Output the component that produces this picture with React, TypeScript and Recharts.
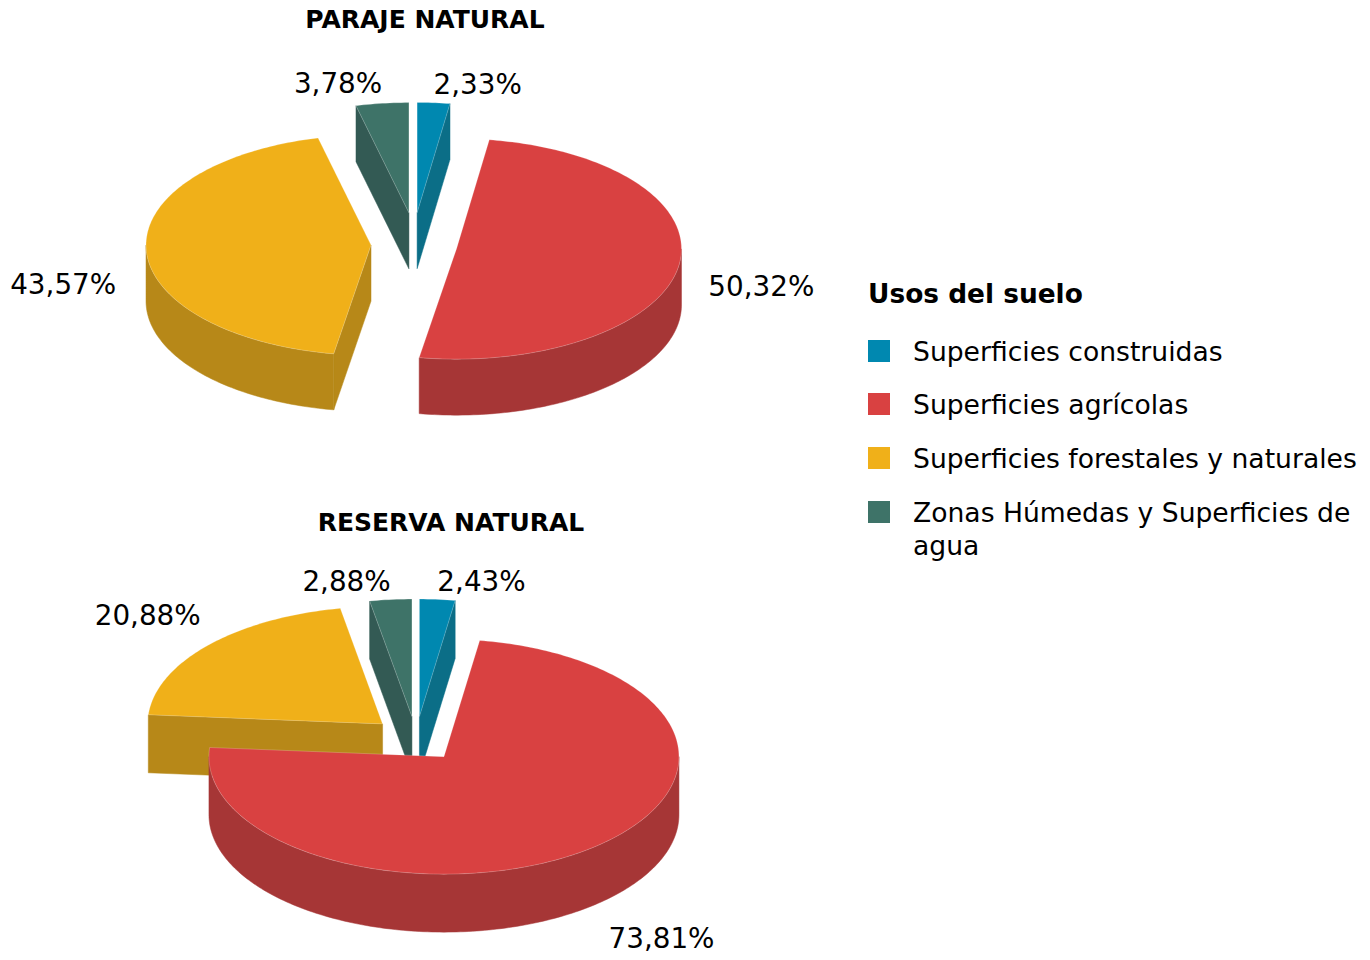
import React from 'react';
import { PieChart, Pie, Cell } from 'recharts';

// ---------- data ----------
const categories = [
  'Superficies construidas',
  'Superficies agrícolas',
  'Superficies forestales y naturales',
  'Zonas Húmedas y Superficies de agua',
];
const parajeValues = [2.33, 50.32, 43.57, 3.78];
const reservaValues = [2.43, 73.81, 20.88, 2.88];
const chartTitles = ['PARAJE NATURAL', 'RESERVA NATURAL'];
const legendTitle = 'Usos del suelo';

// ---------- styles ----------
const TOP_COLORS = ['#0088B0', '#D94141', '#F0B019', '#3E7368'];
const SIDE_COLORS = ['#0B6E87', '#A63636', '#B78818', '#335A54'];
const FONT = '"DejaVu Sans", Verdana, sans-serif';

type P3 = { tilt: number; depth: number; explode: number; explodeY: number };
const TOP_PIE: P3 = { tilt: 0.49, depth: 56, explode: 43, explodeY: 0.73 };
const BOTTOM_PIE: P3 = { tilt: 0.5, depth: 58, explode: 45, explodeY: 0.5 };

const buildRows = (values: number[]) =>
  categories.map((name, i) => ({ name, value: values[i], side: SIDE_COLORS[i] }));

const parajeData = buildRows(parajeValues);
const reservaData = buildRows(reservaValues);

const RAD = Math.PI / 180;

function geo(props: any, p: P3) {
  const cx = props.cx as number;
  const cy = props.cy as number;
  const rx = props.outerRadius as number;
  const ry = rx * p.tilt;
  const lo = Math.min(props.startAngle, props.endAngle);
  const hi = Math.max(props.startAngle, props.endAngle);
  const mid = (lo + hi) / 2;
  const ox = cx + p.explode * Math.cos(mid * RAD);
  const oy = cy - p.explode * p.explodeY * Math.sin(mid * RAD);
  const pt = (a: number, dy = 0): [number, number] => [
    ox + rx * Math.cos(a * RAD),
    oy - ry * Math.sin(a * RAD) + dy,
  ];
  return { lo, hi, ox, oy, pt };
}

const toPath = (pts: [number, number][]) =>
  pts.map((q, i) => `${i ? 'L' : 'M'}${q[0].toFixed(2)},${q[1].toFixed(2)}`).join(' ') + ' Z';

const sideOf = (props: any) => props?.payload?.side ?? props?.side ?? '#666';

const makeCutFaces = (p: P3) => (props: any) => {
  const { lo, hi, ox, oy, pt } = geo(props, p);
  const side = sideOf(props);
  const face = (a: number) => {
    const r = pt(a);
    return toPath([
      [ox, oy],
      r,
      [r[0], r[1] + p.depth],
      [ox, oy + p.depth],
    ]);
  };
  const els: React.ReactNode[] = [];
  if (Math.cos(hi * RAD) < -1e-6) els.push(<path key="h" d={face(hi)} fill={side} stroke={side} strokeWidth={0.5} />);
  if (Math.cos(lo * RAD) > 1e-6) els.push(<path key="l" d={face(lo)} fill={side} stroke={side} strokeWidth={0.5} />);
  return <g>{els}</g>;
};

const makeOuterWalls = (p: P3) => (props: any) => {
  const { lo, hi, pt } = geo(props, p);
  const side = sideOf(props);
  const els: React.ReactNode[] = [];
  for (let k = -2; k <= 1; k++) {
    const a1 = Math.max(lo, 180 + 360 * k);
    const a2 = Math.min(hi, 360 + 360 * k);
    if (a2 - a1 <= 0.01) continue;
    const top: [number, number][] = [];
    const bot: [number, number][] = [];
    const n = Math.max(2, Math.ceil(a2 - a1));
    for (let i = 0; i <= n; i++) {
      const a = a1 + ((a2 - a1) * i) / n;
      top.push(pt(a));
      bot.push(pt(a, p.depth));
    }
    els.push(
      <path key={k} d={toPath([...top, ...bot.reverse()])} fill={side} stroke={side} strokeWidth={0.5} />
    );
  }
  return <g>{els}</g>;
};

const makeTopFace = (p: P3) => (props: any) => {
  const { lo, hi, ox, oy, pt } = geo(props, p);
  const pts: [number, number][] = [[ox, oy]];
  const n = Math.max(2, Math.ceil(hi - lo));
  for (let i = 0; i <= n; i++) pts.push(pt(hi - ((hi - lo) * i) / n));
  return <path d={toPath(pts)} fill={props.fill} stroke="rgba(255,255,255,0.3)" strokeWidth={0.7} />;
};

const fmt = (v: number) => v.toFixed(2).replace('.', ',') + '%';

const makeLabel = (p: P3) => (props: any) => {
  const { cx, cy, outerRadius: rx, midAngle, value } = props;
  const m = midAngle * RAD;
  const ry = rx * p.tilt;
  const ox = cx + p.explode * Math.cos(m);
  const oy = cy - p.explode * p.explodeY * Math.sin(m);
  const s = Math.cos(m); // horizontal direction of the slice
  const c = Math.sin(m); // vertical (up) direction of the slice
  const rimX = ox + rx * s;
  const rimY = oy - ry * c;
  const gap = 30 * Math.abs(s) * (1 - Math.max(0, c));
  const x = rimX + Math.sign(s) * gap;
  const lower = c < 0;
  const y =
    rimY +
    p.depth * Math.max(0, -c) +
    ((lower ? 6 : 2) + (lower ? 60 : 40) * Math.abs(s)) * -c -
    13 * c +
    (lower && s < 0 ? p.depth * 0.55 * -s : 0);
  return (
    <text
      x={x}
      y={y}
      textAnchor={s >= 0 ? 'start' : 'end'}
      dominantBaseline="central"
      fill="#000"
      fontSize={27.8}
      fontFamily={FONT}
    >
      {fmt(value)}
    </text>
  );
};

export default function App() {
  const layers = (data: any[], cx: number, cy: number, r: number, p: P3, id: string) => [
    <Pie
      key={id + 'cut'}
      data={data}
      dataKey="value"
      nameKey="name"
      cx={cx}
      cy={cy}
      outerRadius={r}
      startAngle={90}
      endAngle={-270}
      isAnimationActive={false}
      stroke="none"
      shape={makeCutFaces(p)}
    >
      {data.map((_, i) => (
        <Cell key={i} fill={TOP_COLORS[i]} />
      ))}
    </Pie>,
    <Pie
      key={id + 'wall'}
      data={data}
      dataKey="value"
      nameKey="name"
      cx={cx}
      cy={cy}
      outerRadius={r}
      startAngle={90}
      endAngle={-270}
      isAnimationActive={false}
      stroke="none"
      shape={makeOuterWalls(p)}
    >
      {data.map((_, i) => (
        <Cell key={i} fill={TOP_COLORS[i]} />
      ))}
    </Pie>,
    <Pie
      key={id + 'top'}
      data={data}
      dataKey="value"
      nameKey="name"
      cx={cx}
      cy={cy}
      outerRadius={r}
      startAngle={90}
      endAngle={-270}
      isAnimationActive={false}
      stroke="none"
      shape={makeTopFace(p)}
      label={makeLabel(p)}
      labelLine={false}
    >
      {data.map((_, i) => (
        <Cell key={i} fill={TOP_COLORS[i]} />
      ))}
    </Pie>,
  ];

  const titleStyle = (cxText: number, cyText: number): React.CSSProperties => ({
    position: 'absolute',
    left: cxText - 250,
    width: 500,
    top: cyText - 15,
    lineHeight: '30px',
    textAlign: 'center',
    fontFamily: FONT,
    fontWeight: 'bold',
    fontSize: 25,
    color: '#000',
  });

  const rowCenters = [351, 404, 458, 512];

  return (
    <div style={{ position: 'absolute', left: 0, top: 0, width: 1370, height: 960, background: '#fff' }}>
      <PieChart width={1370} height={960} margin={{ top: 0, right: 0, bottom: 0, left: 0 }}>
        {layers(parajeData, 414, 244, 225, TOP_PIE, 'p')}
        {layers(reservaData, 416, 739, 235, BOTTOM_PIE, 'r')}
      </PieChart>
      <div style={titleStyle(425, 20)}>{chartTitles[0]}</div>
      <div style={titleStyle(451, 523)}>{chartTitles[1]}</div>
      <div
        style={{
          position: 'absolute',
          left: 868,
          top: 294 - 16,
          lineHeight: '32px',
          fontFamily: FONT,
          fontWeight: 'bold',
          fontSize: 26.4,
          whiteSpace: 'nowrap',
        }}
      >
        {legendTitle}
      </div>
      {categories.map((name, i) => (
        <React.Fragment key={name}>
          <div
            style={{
              position: 'absolute',
              left: 868,
              top: rowCenters[i] - 11,
              width: 22,
              height: 22,
              background: TOP_COLORS[i],
            }}
          />
          <div
            style={{
              position: 'absolute',
              left: 913,
              top: rowCenters[i] - 16.5,
              width: 452,
              lineHeight: '33px',
              fontFamily: FONT,
              fontSize: 26.6,
              color: '#000',
            }}
          >
            {name}
          </div>
        </React.Fragment>
      ))}
    </div>
  );
}
